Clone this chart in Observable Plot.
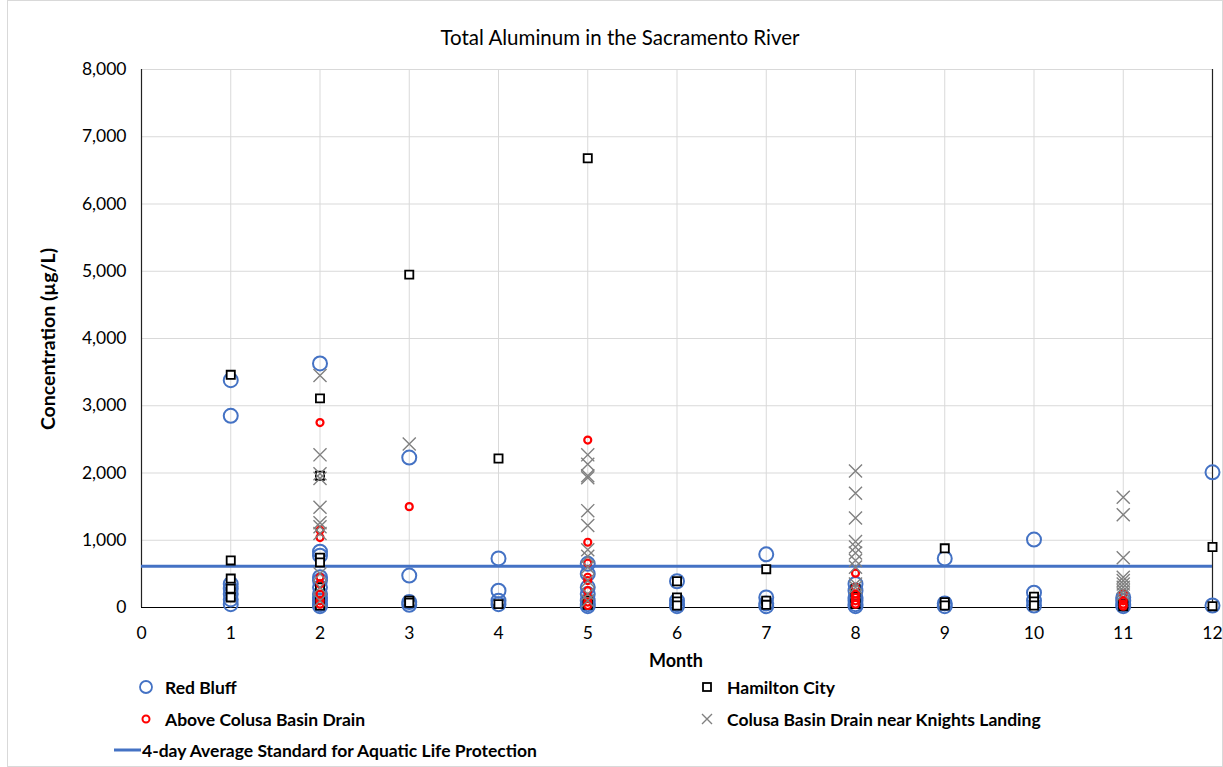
<!DOCTYPE html>
<html>
<head>
<meta charset="utf-8">
<script src="https://cdn.jsdelivr.net/npm/d3@7"></script>
<script src="https://cdn.jsdelivr.net/npm/@observablehq/plot@0.6"></script>
<style>
  html, body { margin: 0; padding: 0; background: #fff; }
  body { width: 1223px; height: 767px; position: relative; overflow: hidden; font-family: Lato, "Open Sans", sans-serif; color: #000; }
  #frame { position: absolute; left: 7px; top: 0; width: 1214px; height: 765px; border: 1px solid #d9d9d9; }
  #title { position: absolute; left: 0; width: 1240px; top: 37px; transform: translateY(-50%); text-align: center; font-size: 20.5px; }
  #chart { position: absolute; left: 0; top: 55px; }
  #ylabel { position: absolute; left: 47px; top: 339px; transform: translate(-50%, -50%) rotate(-90deg); font-size: 19.5px; font-weight: bold; white-space: nowrap; }
  #xlabel { position: absolute; left: 676px; top: 660px; transform: translate(-50%, -50%); font-size: 18px; font-weight: bold; }
  .leg { position: absolute; font-size: 17.5px; font-weight: bold; white-space: nowrap; transform: translateY(-50%); }
  .legsym { position: absolute; }
</style>
</head>
<body>
<div id="frame"></div>
<div id="title">Total Aluminum in the Sacramento River</div>
<div id="chart"></div>
<div id="ylabel">Concentration (µg/L)</div>
<div id="xlabel">Month</div>

<svg class="legsym" style="left:0;top:0" width="1223" height="767">
  <circle cx="146" cy="687" r="6" fill="none" stroke="#4472C4" stroke-width="1.8"></circle>
  <rect x="703" y="683" width="8" height="8" fill="#fff" stroke="#000" stroke-width="1.8"></rect>
  <circle cx="146" cy="719" r="3.5" fill="none" stroke="#FF0000" stroke-width="2"></circle>
  <path d="M702,714L712,724M712,714L702,724" stroke="#808080" stroke-width="1.4"></path>
  <line x1="114" y1="750" x2="141" y2="750" stroke="#4472C4" stroke-width="3"></line>
</svg>
<div class="leg" style="left:165px;top:687px">Red Bluff</div>
<div class="leg" style="left:727px;top:687px">Hamilton City</div>
<div class="leg" style="left:165px;top:719px">Above Colusa Basin Drain</div>
<div class="leg" style="left:727px;top:719px">Colusa Basin Drain near Knights Landing</div>
<div class="leg" style="left:142px;top:750px">4-day Average Standard for Aquatic Life Protection</div>

<script>
// Months 1..12
const months = [1, 2, 3, 4, 5, 6, 7, 8, 9, 10, 11, 12];
const xTicks = [0, 1, 2, 3, 4, 5, 6, 7, 8, 9, 10, 11, 12];
const yTicks = [0, 1000, 2000, 3000, 4000, 5000, 6000, 7000, 8000];

// Values per month (index 0 = month 1), µg/L
const redBluff = [
  [3380, 2850, 350, 280, 200, 120, 50],
  [3630, 830, 770, 450, 400, 300, 200, 150, 100, 50, 20],
  [2230, 475, 80, 40],
  [730, 250, 100, 50],
  [650, 500, 300, 200, 100, 50, 20],
  [390, 100, 50, 20],
  [790, 150, 60, 20],
  [350, 250, 150, 100, 50, 20],
  [730, 60, 20],
  [1010, 220, 100, 30],
  [150, 100, 50, 20],
  [2010, 30]
];
const hamiltonCity = [
  [3460, 700, 430, 280, 150],
  [3110, 1960, 740, 670, 300, 100, 30],
  [4950, 100, 70],
  [2215, 50],
  [6680, 100, 40],
  [390, 150, 90, 30],
  [570, 100, 40],
  [280, 150, 50],
  [880, 80, 30],
  [160, 90, 30],
  [50, 20],
  [900, 20]
];
const aboveColusa = [
  [],
  [2750, 1150, 1040, 450, 350, 200, 100, 50],
  [1500],
  [],
  [2490, 970, 660, 450, 400, 250, 150, 80, 30],
  [],
  [],
  [510, 300, 200, 150, 100, 50],
  [],
  [],
  [200, 100, 50, 20],
  []
];
const knightsLanding = [
  [],
  [3450, 2270, 1990, 1920, 1490, 1260, 1200, 1100, 500, 300, 100],
  [2430],
  [],
  [2270, 2130, 1960, 1930, 1440, 1220, 860, 760, 600, 400, 200, 100],
  [],
  [],
  [2030, 1700, 1330, 980, 900, 810, 700, 600, 350, 300],
  [],
  [],
  [1640, 1380, 740, 450, 400, 350, 300, 250, 200],
  []
];
const standardValue = 613;

function toRows(series) {
  return series.flatMap((vals, i) => vals.map(v => ({month: months[i], value: v})));
}

const blue = "#4472C4";
const chart = Plot.plot({
  width: 1223,
  height: 615,
  marginLeft: 141,
  marginRight: 11,
  marginTop: 14,
  marginBottom: 63,
  style: {fontFamily: "Lato, 'Open Sans', sans-serif", fontSize: "17.5px", color: "#000", background: "transparent", overflow: "visible"},
  x: {domain: [0, 12]},
  y: {domain: [0, 8000]},
  marks: [
    Plot.gridY(yTicks, {stroke: "#d9d9d9", strokeOpacity: 1, strokeWidth: 1}),
    Plot.gridX(months.slice(0, 11), {stroke: "#d9d9d9", strokeOpacity: 1, strokeWidth: 1}),
    Plot.axisX(xTicks, {tickSize: 0, tickPadding: 19, label: null, fontSize: 17.5}),
    Plot.axisY(yTicks, {tickSize: 0, tickPadding: 15, label: null, tickFormat: d3.format(","), fontSize: 17.5}),
    Plot.ruleX([0, 12], {stroke: "#222", strokeWidth: 1.2}),
    Plot.ruleY([0], {stroke: "#000", strokeWidth: 1.2}),
    Plot.ruleY([standardValue], {stroke: blue, strokeWidth: 3}),
    Plot.dot(toRows(redBluff), {x: "month", y: "value", r: 7, stroke: blue, strokeWidth: 2, fill: "none", clip: false}),
    Plot.dot(toRows(hamiltonCity), {x: "month", y: "value", symbol: "square", r: 4.6, stroke: "#000", strokeWidth: 1.8, fill: "#fff"}),
    Plot.dot(toRows(aboveColusa), {x: "month", y: "value", r: 3.5, stroke: "#FF0000", strokeWidth: 2.2, fill: "none"}),
    Plot.dot(toRows(knightsLanding), {x: "month", y: "value", symbol: "times", r: 6, stroke: "#808080", strokeWidth: 1.4})
  ]
});
document.getElementById("chart").appendChild(chart);
</script>
</body>
</html>
